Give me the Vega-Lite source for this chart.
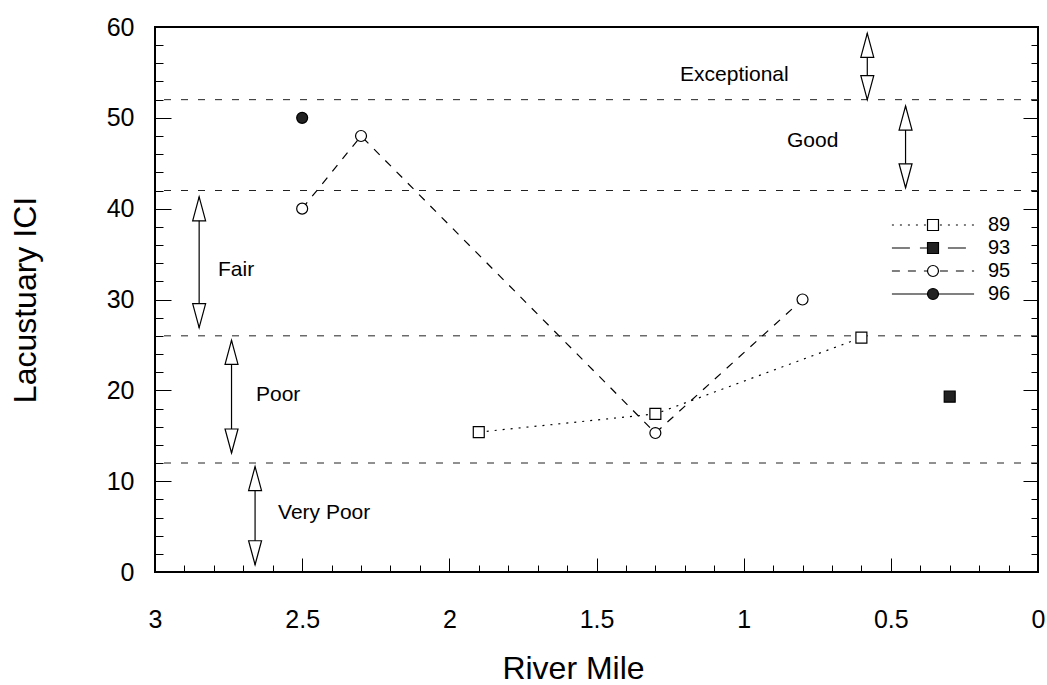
{
  "$schema": "https://vega.github.io/schema/vega-lite/v6.json",
  "width": 883,
  "height": 545,
  "autosize": "none",
  "padding": {"left": 155, "top": 27, "right": 9, "bottom": 113},
  "background": "white",
  "config": {
    "font": "Liberation Sans",
    "view": {"stroke": "black", "strokeWidth": 2},
    "axis": {"grid": false, "domain": false, "tickColor": "black", "tickWidth": 1, "labelColor": "black", "titleColor": "black", "labelFont": "Liberation Sans", "titleFont": "Liberation Sans", "titleFontWeight": "normal", "labelFlush": false, "labelOverlap": false}
  },
  "datasets": {
    "series": [
      {"series": "89", "mile": 1.9, "ici": 15.4},
      {"series": "89", "mile": 1.3, "ici": 17.4},
      {"series": "89", "mile": 0.6, "ici": 25.8},
      {"series": "93", "mile": 0.3, "ici": 19.3},
      {"series": "95", "mile": 2.5, "ici": 40},
      {"series": "95", "mile": 2.3, "ici": 48},
      {"series": "95", "mile": 1.3, "ici": 15.3},
      {"series": "95", "mile": 0.8, "ici": 30},
      {"series": "96", "mile": 2.5, "ici": 50}
    ],
    "thresholds": [{"ici": 52}, {"ici": 42}, {"ici": 26}, {"ici": 12}],
    "arrows": [
      {"band": "Exceptional", "mile": 0.58, "top": 59.3, "bottom": 52},
      {"band": "Good", "mile": 0.45, "top": 51.3, "bottom": 42.3},
      {"band": "Fair", "mile": 2.85, "top": 41.3, "bottom": 26.9},
      {"band": "Poor", "mile": 2.74, "top": 25.5, "bottom": 13.1},
      {"band": "Very Poor", "mile": 2.66, "top": 11.6, "bottom": 0.8}
    ],
    "labels": [
      {"label": "Exceptional", "mile": 1.216, "ici": 54.7},
      {"label": "Good", "mile": 0.853, "ici": 47.4},
      {"label": "Fair", "mile": 2.786, "ici": 33.2},
      {"label": "Poor", "mile": 2.657, "ici": 19.5},
      {"label": "Very Poor", "mile": 2.582, "ici": 6.5}
    ]
  },
  "layer": [
    {
      "data": {"name": "thresholds"},
      "mark": {"type": "rule", "strokeDash": [7, 10], "strokeWidth": 1, "color": "#222"},
      "encoding": {
        "y": {"field": "ici", "type": "quantitative", "scale": {"domain": [0, 60], "nice": false, "zero": false},
          "axis": {"orient": "left", "values": [0, 10, 20, 30, 40, 50, 60], "ticks": false, "tickSize": 0, "labelPadding": 21, "labelFontSize": 25, "title": "Lacustuary ICI", "titleFontSize": 32, "titleX": -120, "titleBaseline": "alphabetic"}}
      }
    },
    {
      "data": {"name": "arrows"},
      "mark": {"type": "rule", "strokeWidth": 1.2, "color": "black"},
      "encoding": {
        "x": {"field": "mile", "type": "quantitative", "scale": {"domain": [0, 3], "reverse": true, "nice": false, "zero": false},
          "axis": {"orient": "bottom", "values": [0, 0.5, 1, 1.5, 2, 2.5, 3], "format": "~g", "ticks": false, "tickSize": 0, "labelPadding": 35, "labelBaseline": "top", "labelFontSize": 25, "title": "River Mile", "titleFontSize": 32, "titleX": 418, "titleY": 106, "titleBaseline": "alphabetic", "titleAlign": "center"}},
        "y": {"field": "top", "type": "quantitative", "scale": {"domain": [0, 60], "nice": false, "zero": false}, "axis": null},
        "y2": {"field": "bottom"}
      }
    },
    {
      "data": {"name": "arrows"},
      "mark": {"type": "point", "shape": "M0,0L1.08,4L-1.08,4Z", "size": 144, "filled": true, "fill": "white", "stroke": "black", "strokeWidth": 1.2, "opacity": 1},
      "encoding": {
        "x": {"field": "mile", "type": "quantitative", "scale": {"domain": [0, 3], "reverse": true, "nice": false, "zero": false},
          "axis": {"orient": "bottom", "values": [0.5, 1, 1.5, 2, 2.5], "labels": false, "ticks": true, "tickSize": -14, "title": null}},
        "y": {"field": "top", "type": "quantitative", "scale": {"domain": [0, 60], "nice": false, "zero": false},
          "axis": {"orient": "left", "values": [10, 20, 30, 40, 50], "labels": false, "ticks": true, "tickSize": -16, "title": null}}
      }
    },
    {
      "data": {"name": "arrows"},
      "mark": {"type": "point", "shape": "M0,0L1.08,-4L-1.08,-4Z", "size": 144, "filled": true, "fill": "white", "stroke": "black", "strokeWidth": 1.2, "opacity": 1},
      "encoding": {
        "x": {"field": "mile", "type": "quantitative", "scale": {"domain": [0, 3], "reverse": true, "nice": false, "zero": false},
          "axis": {"orient": "bottom", "values": [0.1, 0.2, 0.3, 0.4, 0.6, 0.7, 0.8, 0.9, 1.1, 1.2, 1.3, 1.4, 1.6, 1.7, 1.8, 1.9, 2.1, 2.2, 2.3, 2.4, 2.6, 2.7, 2.8, 2.9], "labels": false, "ticks": true, "tickSize": -7, "title": null}},
        "y": {"field": "bottom", "type": "quantitative", "scale": {"domain": [0, 60], "nice": false, "zero": false},
          "axis": {"orient": "left", "values": [2, 4, 6, 8, 12, 14, 16, 18, 22, 24, 26, 28, 32, 34, 36, 38, 42, 44, 46, 48, 52, 54, 56, 58], "labels": false, "ticks": true, "tickSize": -8, "title": null}}
      }
    },
    {
      "data": {"name": "series"},
      "mark": {"type": "line", "strokeWidth": 1.2, "color": "black"},
      "encoding": {
        "x": {"field": "mile", "type": "quantitative", "scale": {"domain": [0, 3], "reverse": true, "nice": false, "zero": false}, "axis": null},
        "y": {"field": "ici", "type": "quantitative", "scale": {"domain": [0, 60], "nice": false, "zero": false},
          "axis": {"orient": "right", "values": [10, 20, 30, 40, 50], "labels": false, "ticks": true, "tickSize": -15, "title": null}},
        "strokeDash": {"field": "series", "type": "nominal",
          "scale": {"domain": ["89", "93", "95", "96"], "range": [[2, 6], [18, 10], [8, 8], [1, 0]]},
          "legend": {"orient": "none", "legendX": 768, "legendY": 188, "title": null, "symbolType": "M-7.5,0H7.5", "symbolSize": 120, "symbolStrokeColor": "black", "symbolStrokeWidth": 1.2, "labelFontSize": 20, "labelFont": "Liberation Sans", "labelColor": "black", "labelOffset": 45, "padding": 0, "rowPadding": 3}}
      }
    },
    {
      "data": {"name": "series"},
      "mark": {"type": "point", "size": 120, "filled": true, "strokeWidth": 1.2, "opacity": 1},
      "encoding": {
        "x": {"field": "mile", "type": "quantitative", "scale": {"domain": [0, 3], "reverse": true, "nice": false, "zero": false}, "axis": null},
        "y": {"field": "ici", "type": "quantitative", "scale": {"domain": [0, 60], "nice": false, "zero": false},
          "axis": {"orient": "right", "values": [2, 4, 6, 8, 12, 14, 16, 18, 22, 24, 26, 28, 32, 34, 36, 38, 42, 44, 46, 48, 52, 54, 56, 58], "labels": false, "ticks": true, "tickSize": -7, "title": null}},
        "shape": {"field": "series", "type": "nominal", "scale": {"range": ["square", "square", "circle", "circle"]},
          "legend": {"orient": "none", "legendX": 768, "legendY": 188, "title": null, "symbolSize": 120, "symbolStrokeWidth": 1.2, "labelFontSize": 20, "labelOpacity": 0, "labelOffset": 45, "padding": 0, "rowPadding": 3}},
        "fill": {"field": "series", "type": "nominal", "scale": {"range": ["white", "#222", "white", "#222"]},
          "legend": {"orient": "none", "legendX": 768, "legendY": 188, "title": null, "symbolSize": 120, "symbolStrokeWidth": 1.2, "labelFontSize": 20, "labelOpacity": 0, "labelOffset": 45, "padding": 0, "rowPadding": 3}},
        "stroke": {"field": "series", "type": "nominal", "scale": {"range": ["black", "black", "black", "black"]},
          "legend": {"orient": "none", "legendX": 768, "legendY": 188, "title": null, "symbolSize": 120, "symbolStrokeWidth": 1.2, "labelFontSize": 20, "labelOpacity": 0, "labelOffset": 45, "padding": 0, "rowPadding": 3}}
      }
    },
    {
      "data": {"name": "labels"},
      "mark": {"type": "text", "align": "left", "baseline": "middle", "fontSize": 21, "font": "Liberation Sans", "color": "black"},
      "encoding": {
        "x": {"field": "mile", "type": "quantitative", "scale": {"domain": [0, 3], "reverse": true, "nice": false, "zero": false}, "axis": null},
        "y": {"field": "ici", "type": "quantitative", "scale": {"domain": [0, 60], "nice": false, "zero": false}, "axis": null},
        "text": {"field": "label", "type": "nominal"}
      }
    }
  ],
  "resolve": {"axis": {"x": "independent", "y": "independent"}}
}
